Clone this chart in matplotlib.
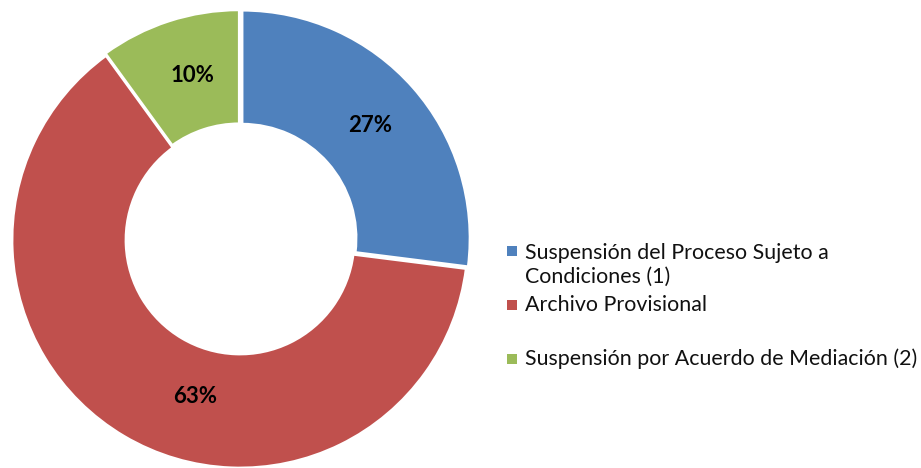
import numpy as np
import matplotlib.pyplot as plt
from matplotlib.patches import Rectangle

# data
labels = ["Suspensión del Proceso Sujeto a\nCondiciones (1)",
          "Archivo Provisional",
          "Suspensión por Acuerdo de Mediación (2)"]
values = [27, 63, 10]
colors = ["#4F81BD", "#C0504D", "#9BBB59"]

W, H = 921, 468
fig = plt.figure(figsize=(W / 100, H / 100), dpi=100)
ax = fig.add_axes([12 / W, 0, 456 / W, 456 / H])

wedges, texts, autotexts = ax.pie(
    values, colors=colors, startangle=90, counterclock=False,
    explode=[0.012, 0, 0.01],
    wedgeprops=dict(width=0.5, edgecolor="white", linewidth=2),
    autopct="%.0f%%", pctdistance=0.75,
    textprops=dict(family="Lato", fontweight="bold", fontsize=16, color="black"))
ax.set_xlim(-1, 1)
ax.set_ylim(-1, 1)
ax.set_aspect("equal")

# Excel put the big slice's label off its middle angle
ang = np.deg2rad(254)
autotexts[1].set_position((0.715 * np.cos(ang), 0.715 * np.sin(ang)))
autotexts[2].set_position((-0.21, 0.72))

# legend drawn by hand to keep Excel's uneven spacing
leg_y = [265, 305, 359]   # pixel rows of each entry (from top)
for lab, col, yp in zip(labels, colors, leg_y):
    my = 251 if "\n" in lab else yp
    fig.add_artist(Rectangle((507 / W, 1 - (my + 5) / H), 10 / W, 10 / H,
                             transform=fig.transFigure, facecolor=col,
                             edgecolor="none"))
    fig.text(525 / W, 1 - yp / H, lab, ha="left", va="center",
             family="Lato", fontsize=15.4, linespacing=1.22, color="#111111")

fig.savefig("out.png", dpi=100)
